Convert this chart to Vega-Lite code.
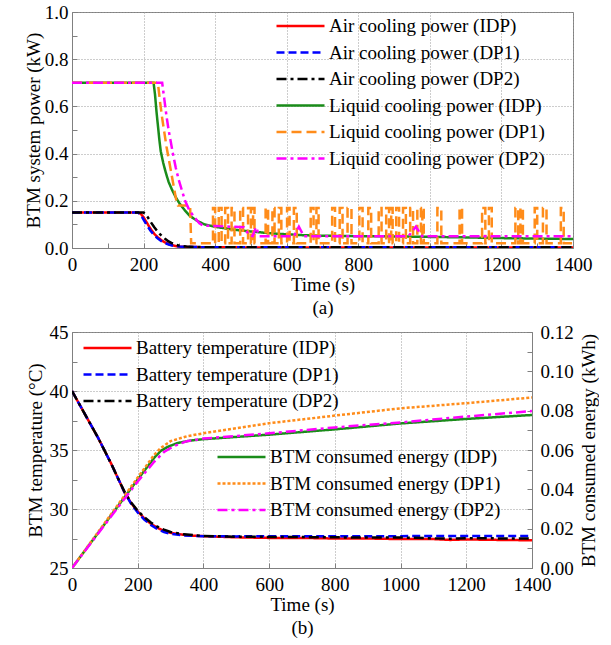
{
  "$schema": "https://vega.github.io/schema/vega-lite/v6.json",
  "padding": {"left": 23, "top": 2, "right": 0, "bottom": 0},
  "spacing": 4,
  "config": {
    "font": "Liberation Serif",
    "view": {"stroke": "#808080", "strokeWidth": 1},
    "axis": {
      "labelFont": "Liberation Serif", "titleFont": "Liberation Serif",
      "labelFontSize": 19, "titleFontSize": 19, "titleFontWeight": "normal",
      "labelColor": "#000", "titleColor": "#000",
      "domainColor": "#808080", "tickColor": "#808080", "tickSize": -5,
      "gridColor": "#9a9a9a", "gridDash": [1, 2], "gridWidth": 1
    },
    "axisX": {"labelPadding": 12},
    "axisY": {"labelPadding": 9},
    "legend": {
      "labelFont": "Liberation Serif", "labelFontSize": 19, "labelColor": "#000",
      "symbolType": "stroke", "symbolSize": 2304, "symbolStrokeWidth": 2.5,
      "clipHeight": 20, "rowPadding": 6.5, "labelOffset": 3, "padding": 0,
      "labelLimit": 0, "title": null
    }
  },
  "datasets": {
    "power": [
      {"t": 0, "v": 0.15, "s": "Air cooling power (IDP)"},
      {"t": 185, "v": 0.15, "s": "Air cooling power (IDP)"},
      {"t": 192, "v": 0.145, "s": "Air cooling power (IDP)"},
      {"t": 200, "v": 0.13, "s": "Air cooling power (IDP)"},
      {"t": 210, "v": 0.105, "s": "Air cooling power (IDP)"},
      {"t": 220, "v": 0.08, "s": "Air cooling power (IDP)"},
      {"t": 230, "v": 0.06, "s": "Air cooling power (IDP)"},
      {"t": 240, "v": 0.045, "s": "Air cooling power (IDP)"},
      {"t": 250, "v": 0.033, "s": "Air cooling power (IDP)"},
      {"t": 260, "v": 0.024, "s": "Air cooling power (IDP)"},
      {"t": 270, "v": 0.017, "s": "Air cooling power (IDP)"},
      {"t": 280, "v": 0.012, "s": "Air cooling power (IDP)"},
      {"t": 290, "v": 0.008, "s": "Air cooling power (IDP)"},
      {"t": 300, "v": 0.006, "s": "Air cooling power (IDP)"},
      {"t": 330, "v": 0.004, "s": "Air cooling power (IDP)"},
      {"t": 400, "v": 0.003, "s": "Air cooling power (IDP)"},
      {"t": 600, "v": 0.002, "s": "Air cooling power (IDP)"},
      {"t": 1400, "v": 0.002, "s": "Air cooling power (IDP)"},

      {"t": 0, "v": 0.15, "s": "Air cooling power (DP1)"},
      {"t": 185, "v": 0.15, "s": "Air cooling power (DP1)"},
      {"t": 192, "v": 0.14, "s": "Air cooling power (DP1)"},
      {"t": 200, "v": 0.12, "s": "Air cooling power (DP1)"},
      {"t": 210, "v": 0.095, "s": "Air cooling power (DP1)"},
      {"t": 220, "v": 0.072, "s": "Air cooling power (DP1)"},
      {"t": 230, "v": 0.054, "s": "Air cooling power (DP1)"},
      {"t": 240, "v": 0.04, "s": "Air cooling power (DP1)"},
      {"t": 250, "v": 0.029, "s": "Air cooling power (DP1)"},
      {"t": 260, "v": 0.021, "s": "Air cooling power (DP1)"},
      {"t": 270, "v": 0.015, "s": "Air cooling power (DP1)"},
      {"t": 280, "v": 0.011, "s": "Air cooling power (DP1)"},
      {"t": 300, "v": 0.006, "s": "Air cooling power (DP1)"},
      {"t": 330, "v": 0.004, "s": "Air cooling power (DP1)"},
      {"t": 400, "v": 0.003, "s": "Air cooling power (DP1)"},
      {"t": 1400, "v": 0.003, "s": "Air cooling power (DP1)"},

      {"t": 0, "v": 0.15, "s": "Air cooling power (DP2)"},
      {"t": 200, "v": 0.15, "s": "Air cooling power (DP2)"},
      {"t": 205, "v": 0.145, "s": "Air cooling power (DP2)"},
      {"t": 212, "v": 0.13, "s": "Air cooling power (DP2)"},
      {"t": 220, "v": 0.11, "s": "Air cooling power (DP2)"},
      {"t": 230, "v": 0.088, "s": "Air cooling power (DP2)"},
      {"t": 240, "v": 0.068, "s": "Air cooling power (DP2)"},
      {"t": 250, "v": 0.052, "s": "Air cooling power (DP2)"},
      {"t": 260, "v": 0.039, "s": "Air cooling power (DP2)"},
      {"t": 270, "v": 0.028, "s": "Air cooling power (DP2)"},
      {"t": 280, "v": 0.02, "s": "Air cooling power (DP2)"},
      {"t": 290, "v": 0.014, "s": "Air cooling power (DP2)"},
      {"t": 300, "v": 0.01, "s": "Air cooling power (DP2)"},
      {"t": 320, "v": 0.006, "s": "Air cooling power (DP2)"},
      {"t": 350, "v": 0.004, "s": "Air cooling power (DP2)"},
      {"t": 400, "v": 0.003, "s": "Air cooling power (DP2)"},
      {"t": 1400, "v": 0.003, "s": "Air cooling power (DP2)"},

      {"t": 0, "v": 0.7, "s": "Liquid cooling power (IDP)"},
      {"t": 228, "v": 0.7, "s": "Liquid cooling power (IDP)"},
      {"t": 232, "v": 0.65, "s": "Liquid cooling power (IDP)"},
      {"t": 236, "v": 0.58, "s": "Liquid cooling power (IDP)"},
      {"t": 240, "v": 0.52, "s": "Liquid cooling power (IDP)"},
      {"t": 244, "v": 0.46, "s": "Liquid cooling power (IDP)"},
      {"t": 248, "v": 0.41, "s": "Liquid cooling power (IDP)"},
      {"t": 255, "v": 0.36, "s": "Liquid cooling power (IDP)"},
      {"t": 262, "v": 0.32, "s": "Liquid cooling power (IDP)"},
      {"t": 270, "v": 0.28, "s": "Liquid cooling power (IDP)"},
      {"t": 280, "v": 0.245, "s": "Liquid cooling power (IDP)"},
      {"t": 290, "v": 0.215, "s": "Liquid cooling power (IDP)"},
      {"t": 300, "v": 0.19, "s": "Liquid cooling power (IDP)"},
      {"t": 315, "v": 0.16, "s": "Liquid cooling power (IDP)"},
      {"t": 330, "v": 0.135, "s": "Liquid cooling power (IDP)"},
      {"t": 350, "v": 0.115, "s": "Liquid cooling power (IDP)"},
      {"t": 370, "v": 0.1, "s": "Liquid cooling power (IDP)"},
      {"t": 400, "v": 0.09, "s": "Liquid cooling power (IDP)"},
      {"t": 450, "v": 0.078, "s": "Liquid cooling power (IDP)"},
      {"t": 500, "v": 0.07, "s": "Liquid cooling power (IDP)"},
      {"t": 550, "v": 0.063, "s": "Liquid cooling power (IDP)"},
      {"t": 600, "v": 0.058, "s": "Liquid cooling power (IDP)"},
      {"t": 650, "v": 0.054, "s": "Liquid cooling power (IDP)"},
      {"t": 700, "v": 0.052, "s": "Liquid cooling power (IDP)"},
      {"t": 800, "v": 0.05, "s": "Liquid cooling power (IDP)"},
      {"t": 900, "v": 0.049, "s": "Liquid cooling power (IDP)"},
      {"t": 1000, "v": 0.047, "s": "Liquid cooling power (IDP)"},
      {"t": 1100, "v": 0.045, "s": "Liquid cooling power (IDP)"},
      {"t": 1200, "v": 0.042, "s": "Liquid cooling power (IDP)"},
      {"t": 1300, "v": 0.04, "s": "Liquid cooling power (IDP)"},
      {"t": 1400, "v": 0.038, "s": "Liquid cooling power (IDP)"},

      {"t": 0, "v": 0.7, "s": "Liquid cooling power (DP1)"},
      {"t": 240, "v": 0.7, "s": "Liquid cooling power (DP1)"},
      {"t": 246, "v": 0.62, "s": "Liquid cooling power (DP1)"},
      {"t": 252, "v": 0.55, "s": "Liquid cooling power (DP1)"},
      {"t": 258, "v": 0.49, "s": "Liquid cooling power (DP1)"},
      {"t": 264, "v": 0.43, "s": "Liquid cooling power (DP1)"},
      {"t": 270, "v": 0.38, "s": "Liquid cooling power (DP1)"},
      {"t": 276, "v": 0.33, "s": "Liquid cooling power (DP1)"},
      {"t": 282, "v": 0.28, "s": "Liquid cooling power (DP1)"},
      {"t": 288, "v": 0.23, "s": "Liquid cooling power (DP1)"},
      {"t": 293, "v": 0.19, "s": "Liquid cooling power (DP1)"},
      {"t": 296, "v": 0.18, "s": "Liquid cooling power (DP1)"},
      {"t": 330, "v": 0.18, "s": "Liquid cooling power (DP1)"},
      {"t": 333, "v": 0.02, "s": "Liquid cooling power (DP1)"},
      {"t": 394, "v": 0.02, "s": "Liquid cooling power (DP1)"},
      {"t": 394, "v": 0.17, "s": "Liquid cooling power (DP1)"},
      {"t": 400, "v": 0.17, "s": "Liquid cooling power (DP1)"},
      {"t": 400, "v": 0.02, "s": "Liquid cooling power (DP1)"},
      {"t": 410, "v": 0.02, "s": "Liquid cooling power (DP1)"},
      {"t": 410, "v": 0.17, "s": "Liquid cooling power (DP1)"},
      {"t": 418, "v": 0.17, "s": "Liquid cooling power (DP1)"},
      {"t": 418, "v": 0.02, "s": "Liquid cooling power (DP1)"},
      {"t": 428, "v": 0.02, "s": "Liquid cooling power (DP1)"},
      {"t": 428, "v": 0.17, "s": "Liquid cooling power (DP1)"},
      {"t": 436, "v": 0.17, "s": "Liquid cooling power (DP1)"},
      {"t": 436, "v": 0.02, "s": "Liquid cooling power (DP1)"},
      {"t": 446, "v": 0.02, "s": "Liquid cooling power (DP1)"},
      {"t": 446, "v": 0.17, "s": "Liquid cooling power (DP1)"},
      {"t": 454, "v": 0.17, "s": "Liquid cooling power (DP1)"},
      {"t": 454, "v": 0.02, "s": "Liquid cooling power (DP1)"},
      {"t": 470, "v": 0.02, "s": "Liquid cooling power (DP1)"},
      {"t": 470, "v": 0.17, "s": "Liquid cooling power (DP1)"},
      {"t": 478, "v": 0.17, "s": "Liquid cooling power (DP1)"},
      {"t": 478, "v": 0.02, "s": "Liquid cooling power (DP1)"},
      {"t": 492, "v": 0.02, "s": "Liquid cooling power (DP1)"},
      {"t": 492, "v": 0.17, "s": "Liquid cooling power (DP1)"},
      {"t": 500, "v": 0.17, "s": "Liquid cooling power (DP1)"},
      {"t": 500, "v": 0.02, "s": "Liquid cooling power (DP1)"},
      {"t": 506, "v": 0.02, "s": "Liquid cooling power (DP1)"},
      {"t": 506, "v": 0.17, "s": "Liquid cooling power (DP1)"},
      {"t": 510, "v": 0.17, "s": "Liquid cooling power (DP1)"},
      {"t": 510, "v": 0.02, "s": "Liquid cooling power (DP1)"},
      {"t": 541, "v": 0.02, "s": "Liquid cooling power (DP1)"},
      {"t": 541, "v": 0.17, "s": "Liquid cooling power (DP1)"},
      {"t": 548, "v": 0.17, "s": "Liquid cooling power (DP1)"},
      {"t": 548, "v": 0.02, "s": "Liquid cooling power (DP1)"},
      {"t": 560, "v": 0.02, "s": "Liquid cooling power (DP1)"},
      {"t": 560, "v": 0.17, "s": "Liquid cooling power (DP1)"},
      {"t": 566, "v": 0.17, "s": "Liquid cooling power (DP1)"},
      {"t": 566, "v": 0.02, "s": "Liquid cooling power (DP1)"},
      {"t": 578, "v": 0.02, "s": "Liquid cooling power (DP1)"},
      {"t": 578, "v": 0.17, "s": "Liquid cooling power (DP1)"},
      {"t": 585, "v": 0.17, "s": "Liquid cooling power (DP1)"},
      {"t": 585, "v": 0.02, "s": "Liquid cooling power (DP1)"},
      {"t": 601, "v": 0.02, "s": "Liquid cooling power (DP1)"},
      {"t": 601, "v": 0.17, "s": "Liquid cooling power (DP1)"},
      {"t": 608, "v": 0.17, "s": "Liquid cooling power (DP1)"},
      {"t": 608, "v": 0.02, "s": "Liquid cooling power (DP1)"},
      {"t": 620, "v": 0.02, "s": "Liquid cooling power (DP1)"},
      {"t": 620, "v": 0.17, "s": "Liquid cooling power (DP1)"},
      {"t": 628, "v": 0.17, "s": "Liquid cooling power (DP1)"},
      {"t": 628, "v": 0.02, "s": "Liquid cooling power (DP1)"},
      {"t": 667, "v": 0.02, "s": "Liquid cooling power (DP1)"},
      {"t": 667, "v": 0.17, "s": "Liquid cooling power (DP1)"},
      {"t": 675, "v": 0.17, "s": "Liquid cooling power (DP1)"},
      {"t": 675, "v": 0.02, "s": "Liquid cooling power (DP1)"},
      {"t": 683, "v": 0.02, "s": "Liquid cooling power (DP1)"},
      {"t": 683, "v": 0.17, "s": "Liquid cooling power (DP1)"},
      {"t": 689, "v": 0.17, "s": "Liquid cooling power (DP1)"},
      {"t": 689, "v": 0.02, "s": "Liquid cooling power (DP1)"},
      {"t": 727, "v": 0.02, "s": "Liquid cooling power (DP1)"},
      {"t": 727, "v": 0.17, "s": "Liquid cooling power (DP1)"},
      {"t": 735, "v": 0.17, "s": "Liquid cooling power (DP1)"},
      {"t": 735, "v": 0.02, "s": "Liquid cooling power (DP1)"},
      {"t": 748, "v": 0.02, "s": "Liquid cooling power (DP1)"},
      {"t": 748, "v": 0.17, "s": "Liquid cooling power (DP1)"},
      {"t": 756, "v": 0.17, "s": "Liquid cooling power (DP1)"},
      {"t": 756, "v": 0.02, "s": "Liquid cooling power (DP1)"},
      {"t": 770, "v": 0.02, "s": "Liquid cooling power (DP1)"},
      {"t": 770, "v": 0.17, "s": "Liquid cooling power (DP1)"},
      {"t": 781, "v": 0.17, "s": "Liquid cooling power (DP1)"},
      {"t": 781, "v": 0.02, "s": "Liquid cooling power (DP1)"},
      {"t": 803, "v": 0.02, "s": "Liquid cooling power (DP1)"},
      {"t": 803, "v": 0.17, "s": "Liquid cooling power (DP1)"},
      {"t": 812, "v": 0.17, "s": "Liquid cooling power (DP1)"},
      {"t": 812, "v": 0.02, "s": "Liquid cooling power (DP1)"},
      {"t": 828, "v": 0.02, "s": "Liquid cooling power (DP1)"},
      {"t": 828, "v": 0.17, "s": "Liquid cooling power (DP1)"},
      {"t": 836, "v": 0.17, "s": "Liquid cooling power (DP1)"},
      {"t": 836, "v": 0.02, "s": "Liquid cooling power (DP1)"},
      {"t": 857, "v": 0.02, "s": "Liquid cooling power (DP1)"},
      {"t": 857, "v": 0.17, "s": "Liquid cooling power (DP1)"},
      {"t": 865, "v": 0.17, "s": "Liquid cooling power (DP1)"},
      {"t": 865, "v": 0.02, "s": "Liquid cooling power (DP1)"},
      {"t": 878, "v": 0.02, "s": "Liquid cooling power (DP1)"},
      {"t": 878, "v": 0.17, "s": "Liquid cooling power (DP1)"},
      {"t": 886, "v": 0.17, "s": "Liquid cooling power (DP1)"},
      {"t": 886, "v": 0.02, "s": "Liquid cooling power (DP1)"},
      {"t": 892, "v": 0.02, "s": "Liquid cooling power (DP1)"},
      {"t": 892, "v": 0.17, "s": "Liquid cooling power (DP1)"},
      {"t": 896, "v": 0.17, "s": "Liquid cooling power (DP1)"},
      {"t": 896, "v": 0.02, "s": "Liquid cooling power (DP1)"},
      {"t": 906, "v": 0.02, "s": "Liquid cooling power (DP1)"},
      {"t": 906, "v": 0.17, "s": "Liquid cooling power (DP1)"},
      {"t": 914, "v": 0.17, "s": "Liquid cooling power (DP1)"},
      {"t": 914, "v": 0.02, "s": "Liquid cooling power (DP1)"},
      {"t": 925, "v": 0.02, "s": "Liquid cooling power (DP1)"},
      {"t": 925, "v": 0.17, "s": "Liquid cooling power (DP1)"},
      {"t": 933, "v": 0.17, "s": "Liquid cooling power (DP1)"},
      {"t": 933, "v": 0.02, "s": "Liquid cooling power (DP1)"},
      {"t": 945, "v": 0.02, "s": "Liquid cooling power (DP1)"},
      {"t": 945, "v": 0.17, "s": "Liquid cooling power (DP1)"},
      {"t": 953, "v": 0.17, "s": "Liquid cooling power (DP1)"},
      {"t": 953, "v": 0.02, "s": "Liquid cooling power (DP1)"},
      {"t": 965, "v": 0.02, "s": "Liquid cooling power (DP1)"},
      {"t": 965, "v": 0.17, "s": "Liquid cooling power (DP1)"},
      {"t": 975, "v": 0.17, "s": "Liquid cooling power (DP1)"},
      {"t": 975, "v": 0.02, "s": "Liquid cooling power (DP1)"},
      {"t": 979, "v": 0.02, "s": "Liquid cooling power (DP1)"},
      {"t": 979, "v": 0.17, "s": "Liquid cooling power (DP1)"},
      {"t": 983, "v": 0.17, "s": "Liquid cooling power (DP1)"},
      {"t": 983, "v": 0.02, "s": "Liquid cooling power (DP1)"},
      {"t": 1021, "v": 0.02, "s": "Liquid cooling power (DP1)"},
      {"t": 1021, "v": 0.17, "s": "Liquid cooling power (DP1)"},
      {"t": 1032, "v": 0.17, "s": "Liquid cooling power (DP1)"},
      {"t": 1032, "v": 0.02, "s": "Liquid cooling power (DP1)"},
      {"t": 1083, "v": 0.02, "s": "Liquid cooling power (DP1)"},
      {"t": 1083, "v": 0.17, "s": "Liquid cooling power (DP1)"},
      {"t": 1090, "v": 0.17, "s": "Liquid cooling power (DP1)"},
      {"t": 1090, "v": 0.02, "s": "Liquid cooling power (DP1)"},
      {"t": 1146, "v": 0.02, "s": "Liquid cooling power (DP1)"},
      {"t": 1146, "v": 0.17, "s": "Liquid cooling power (DP1)"},
      {"t": 1155, "v": 0.17, "s": "Liquid cooling power (DP1)"},
      {"t": 1155, "v": 0.02, "s": "Liquid cooling power (DP1)"},
      {"t": 1165, "v": 0.02, "s": "Liquid cooling power (DP1)"},
      {"t": 1165, "v": 0.17, "s": "Liquid cooling power (DP1)"},
      {"t": 1173, "v": 0.17, "s": "Liquid cooling power (DP1)"},
      {"t": 1173, "v": 0.02, "s": "Liquid cooling power (DP1)"},
      {"t": 1239, "v": 0.02, "s": "Liquid cooling power (DP1)"},
      {"t": 1239, "v": 0.17, "s": "Liquid cooling power (DP1)"},
      {"t": 1247, "v": 0.17, "s": "Liquid cooling power (DP1)"},
      {"t": 1247, "v": 0.02, "s": "Liquid cooling power (DP1)"},
      {"t": 1253, "v": 0.02, "s": "Liquid cooling power (DP1)"},
      {"t": 1253, "v": 0.17, "s": "Liquid cooling power (DP1)"},
      {"t": 1260, "v": 0.17, "s": "Liquid cooling power (DP1)"},
      {"t": 1260, "v": 0.02, "s": "Liquid cooling power (DP1)"},
      {"t": 1293, "v": 0.02, "s": "Liquid cooling power (DP1)"},
      {"t": 1293, "v": 0.17, "s": "Liquid cooling power (DP1)"},
      {"t": 1300, "v": 0.17, "s": "Liquid cooling power (DP1)"},
      {"t": 1300, "v": 0.02, "s": "Liquid cooling power (DP1)"},
      {"t": 1316, "v": 0.02, "s": "Liquid cooling power (DP1)"},
      {"t": 1316, "v": 0.17, "s": "Liquid cooling power (DP1)"},
      {"t": 1326, "v": 0.17, "s": "Liquid cooling power (DP1)"},
      {"t": 1326, "v": 0.02, "s": "Liquid cooling power (DP1)"},
      {"t": 1366, "v": 0.02, "s": "Liquid cooling power (DP1)"},
      {"t": 1366, "v": 0.17, "s": "Liquid cooling power (DP1)"},
      {"t": 1374, "v": 0.17, "s": "Liquid cooling power (DP1)"},
      {"t": 1374, "v": 0.02, "s": "Liquid cooling power (DP1)"},
      {"t": 1400, "v": 0.02, "s": "Liquid cooling power (DP1)"},

      {"t": 0, "v": 0.7, "s": "Liquid cooling power (DP2)"},
      {"t": 252, "v": 0.7, "s": "Liquid cooling power (DP2)"},
      {"t": 258, "v": 0.63, "s": "Liquid cooling power (DP2)"},
      {"t": 264, "v": 0.56, "s": "Liquid cooling power (DP2)"},
      {"t": 270, "v": 0.5, "s": "Liquid cooling power (DP2)"},
      {"t": 276, "v": 0.45, "s": "Liquid cooling power (DP2)"},
      {"t": 282, "v": 0.4, "s": "Liquid cooling power (DP2)"},
      {"t": 290, "v": 0.34, "s": "Liquid cooling power (DP2)"},
      {"t": 298, "v": 0.29, "s": "Liquid cooling power (DP2)"},
      {"t": 306, "v": 0.25, "s": "Liquid cooling power (DP2)"},
      {"t": 316, "v": 0.2, "s": "Liquid cooling power (DP2)"},
      {"t": 328, "v": 0.16, "s": "Liquid cooling power (DP2)"},
      {"t": 342, "v": 0.13, "s": "Liquid cooling power (DP2)"},
      {"t": 356, "v": 0.105, "s": "Liquid cooling power (DP2)"},
      {"t": 366, "v": 0.095, "s": "Liquid cooling power (DP2)"},
      {"t": 400, "v": 0.093, "s": "Liquid cooling power (DP2)"},
      {"t": 450, "v": 0.09, "s": "Liquid cooling power (DP2)"},
      {"t": 480, "v": 0.088, "s": "Liquid cooling power (DP2)"},
      {"t": 495, "v": 0.055, "s": "Liquid cooling power (DP2)"},
      {"t": 505, "v": 0.05, "s": "Liquid cooling power (DP2)"},
      {"t": 514, "v": 0.088, "s": "Liquid cooling power (DP2)"},
      {"t": 524, "v": 0.05, "s": "Liquid cooling power (DP2)"},
      {"t": 620, "v": 0.05, "s": "Liquid cooling power (DP2)"},
      {"t": 634, "v": 0.09, "s": "Liquid cooling power (DP2)"},
      {"t": 648, "v": 0.05, "s": "Liquid cooling power (DP2)"},
      {"t": 940, "v": 0.05, "s": "Liquid cooling power (DP2)"},
      {"t": 961, "v": 0.09, "s": "Liquid cooling power (DP2)"},
      {"t": 978, "v": 0.05, "s": "Liquid cooling power (DP2)"},
      {"t": 1400, "v": 0.05, "s": "Liquid cooling power (DP2)"}
    ],
    "temp": [
      {"t": 0, "v": 40, "s": "Battery temperature (IDP)"},
      {"t": 20, "v": 39.0, "s": "Battery temperature (IDP)"},
      {"t": 40, "v": 38.0, "s": "Battery temperature (IDP)"},
      {"t": 60, "v": 37.0, "s": "Battery temperature (IDP)"},
      {"t": 80, "v": 36.0, "s": "Battery temperature (IDP)"},
      {"t": 100, "v": 34.9, "s": "Battery temperature (IDP)"},
      {"t": 120, "v": 33.8, "s": "Battery temperature (IDP)"},
      {"t": 140, "v": 32.6, "s": "Battery temperature (IDP)"},
      {"t": 160, "v": 31.4, "s": "Battery temperature (IDP)"},
      {"t": 180, "v": 30.5, "s": "Battery temperature (IDP)"},
      {"t": 200, "v": 29.8, "s": "Battery temperature (IDP)"},
      {"t": 220, "v": 29.2, "s": "Battery temperature (IDP)"},
      {"t": 240, "v": 28.75, "s": "Battery temperature (IDP)"},
      {"t": 260, "v": 28.4, "s": "Battery temperature (IDP)"},
      {"t": 280, "v": 28.15, "s": "Battery temperature (IDP)"},
      {"t": 300, "v": 27.98, "s": "Battery temperature (IDP)"},
      {"t": 330, "v": 27.85, "s": "Battery temperature (IDP)"},
      {"t": 360, "v": 27.75, "s": "Battery temperature (IDP)"},
      {"t": 400, "v": 27.7, "s": "Battery temperature (IDP)"},
      {"t": 500, "v": 27.6, "s": "Battery temperature (IDP)"},
      {"t": 600, "v": 27.55, "s": "Battery temperature (IDP)"},
      {"t": 700, "v": 27.55, "s": "Battery temperature (IDP)"},
      {"t": 800, "v": 27.5, "s": "Battery temperature (IDP)"},
      {"t": 900, "v": 27.5, "s": "Battery temperature (IDP)"},
      {"t": 1000, "v": 27.45, "s": "Battery temperature (IDP)"},
      {"t": 1100, "v": 27.45, "s": "Battery temperature (IDP)"},
      {"t": 1150, "v": 27.38, "s": "Battery temperature (IDP)"},
      {"t": 1200, "v": 27.42, "s": "Battery temperature (IDP)"},
      {"t": 1300, "v": 27.38, "s": "Battery temperature (IDP)"},
      {"t": 1400, "v": 27.35, "s": "Battery temperature (IDP)"},

      {"t": 0, "v": 40, "s": "Battery temperature (DP1)"},
      {"t": 20, "v": 39.0, "s": "Battery temperature (DP1)"},
      {"t": 40, "v": 38.0, "s": "Battery temperature (DP1)"},
      {"t": 60, "v": 37.0, "s": "Battery temperature (DP1)"},
      {"t": 80, "v": 36.0, "s": "Battery temperature (DP1)"},
      {"t": 100, "v": 34.9, "s": "Battery temperature (DP1)"},
      {"t": 120, "v": 33.8, "s": "Battery temperature (DP1)"},
      {"t": 140, "v": 32.6, "s": "Battery temperature (DP1)"},
      {"t": 160, "v": 31.4, "s": "Battery temperature (DP1)"},
      {"t": 180, "v": 30.45, "s": "Battery temperature (DP1)"},
      {"t": 200, "v": 29.7, "s": "Battery temperature (DP1)"},
      {"t": 220, "v": 29.1, "s": "Battery temperature (DP1)"},
      {"t": 240, "v": 28.65, "s": "Battery temperature (DP1)"},
      {"t": 260, "v": 28.3, "s": "Battery temperature (DP1)"},
      {"t": 280, "v": 28.05, "s": "Battery temperature (DP1)"},
      {"t": 300, "v": 27.9, "s": "Battery temperature (DP1)"},
      {"t": 340, "v": 27.75, "s": "Battery temperature (DP1)"},
      {"t": 400, "v": 27.7, "s": "Battery temperature (DP1)"},
      {"t": 500, "v": 27.68, "s": "Battery temperature (DP1)"},
      {"t": 700, "v": 27.7, "s": "Battery temperature (DP1)"},
      {"t": 1000, "v": 27.7, "s": "Battery temperature (DP1)"},
      {"t": 1200, "v": 27.72, "s": "Battery temperature (DP1)"},
      {"t": 1400, "v": 27.72, "s": "Battery temperature (DP1)"},

      {"t": 0, "v": 40, "s": "Battery temperature (DP2)"},
      {"t": 20, "v": 39.0, "s": "Battery temperature (DP2)"},
      {"t": 40, "v": 38.0, "s": "Battery temperature (DP2)"},
      {"t": 60, "v": 37.0, "s": "Battery temperature (DP2)"},
      {"t": 80, "v": 36.0, "s": "Battery temperature (DP2)"},
      {"t": 100, "v": 34.9, "s": "Battery temperature (DP2)"},
      {"t": 120, "v": 33.8, "s": "Battery temperature (DP2)"},
      {"t": 140, "v": 32.6, "s": "Battery temperature (DP2)"},
      {"t": 160, "v": 31.45, "s": "Battery temperature (DP2)"},
      {"t": 180, "v": 30.55, "s": "Battery temperature (DP2)"},
      {"t": 200, "v": 29.85, "s": "Battery temperature (DP2)"},
      {"t": 220, "v": 29.3, "s": "Battery temperature (DP2)"},
      {"t": 240, "v": 28.85, "s": "Battery temperature (DP2)"},
      {"t": 260, "v": 28.5, "s": "Battery temperature (DP2)"},
      {"t": 280, "v": 28.25, "s": "Battery temperature (DP2)"},
      {"t": 300, "v": 28.05, "s": "Battery temperature (DP2)"},
      {"t": 340, "v": 27.85, "s": "Battery temperature (DP2)"},
      {"t": 400, "v": 27.72, "s": "Battery temperature (DP2)"},
      {"t": 500, "v": 27.65, "s": "Battery temperature (DP2)"},
      {"t": 700, "v": 27.62, "s": "Battery temperature (DP2)"},
      {"t": 900, "v": 27.58, "s": "Battery temperature (DP2)"},
      {"t": 1000, "v": 27.58, "s": "Battery temperature (DP2)"},
      {"t": 1150, "v": 27.48, "s": "Battery temperature (DP2)"},
      {"t": 1200, "v": 27.52, "s": "Battery temperature (DP2)"},
      {"t": 1400, "v": 27.5, "s": "Battery temperature (DP2)"}
    ],
    "energy": [
      {"t": 0, "e": 0, "s": "BTM consumed energy (IDP)"},
      {"t": 100, "e": 0.0225, "s": "BTM consumed energy (IDP)"},
      {"t": 200, "e": 0.045, "s": "BTM consumed energy (IDP)"},
      {"t": 250, "e": 0.056, "s": "BTM consumed energy (IDP)"},
      {"t": 270, "e": 0.0595, "s": "BTM consumed energy (IDP)"},
      {"t": 290, "e": 0.0615, "s": "BTM consumed energy (IDP)"},
      {"t": 320, "e": 0.0635, "s": "BTM consumed energy (IDP)"},
      {"t": 360, "e": 0.0648, "s": "BTM consumed energy (IDP)"},
      {"t": 400, "e": 0.0655, "s": "BTM consumed energy (IDP)"},
      {"t": 600, "e": 0.0678, "s": "BTM consumed energy (IDP)"},
      {"t": 800, "e": 0.0705, "s": "BTM consumed energy (IDP)"},
      {"t": 1000, "e": 0.0735, "s": "BTM consumed energy (IDP)"},
      {"t": 1200, "e": 0.0758, "s": "BTM consumed energy (IDP)"},
      {"t": 1400, "e": 0.0778, "s": "BTM consumed energy (IDP)"},

      {"t": 0, "e": 0, "s": "BTM consumed energy (DP1)"},
      {"t": 100, "e": 0.023, "s": "BTM consumed energy (DP1)"},
      {"t": 200, "e": 0.046, "s": "BTM consumed energy (DP1)"},
      {"t": 250, "e": 0.0575, "s": "BTM consumed energy (DP1)"},
      {"t": 270, "e": 0.061, "s": "BTM consumed energy (DP1)"},
      {"t": 300, "e": 0.0645, "s": "BTM consumed energy (DP1)"},
      {"t": 350, "e": 0.067, "s": "BTM consumed energy (DP1)"},
      {"t": 400, "e": 0.0685, "s": "BTM consumed energy (DP1)"},
      {"t": 600, "e": 0.0736, "s": "BTM consumed energy (DP1)"},
      {"t": 800, "e": 0.0775, "s": "BTM consumed energy (DP1)"},
      {"t": 1000, "e": 0.0812, "s": "BTM consumed energy (DP1)"},
      {"t": 1200, "e": 0.0838, "s": "BTM consumed energy (DP1)"},
      {"t": 1400, "e": 0.0867, "s": "BTM consumed energy (DP1)"},

      {"t": 0, "e": 0, "s": "BTM consumed energy (DP2)"},
      {"t": 100, "e": 0.022, "s": "BTM consumed energy (DP2)"},
      {"t": 200, "e": 0.044, "s": "BTM consumed energy (DP2)"},
      {"t": 250, "e": 0.054, "s": "BTM consumed energy (DP2)"},
      {"t": 280, "e": 0.059, "s": "BTM consumed energy (DP2)"},
      {"t": 310, "e": 0.062, "s": "BTM consumed energy (DP2)"},
      {"t": 350, "e": 0.0645, "s": "BTM consumed energy (DP2)"},
      {"t": 400, "e": 0.0658, "s": "BTM consumed energy (DP2)"},
      {"t": 600, "e": 0.0685, "s": "BTM consumed energy (DP2)"},
      {"t": 800, "e": 0.0715, "s": "BTM consumed energy (DP2)"},
      {"t": 1000, "e": 0.074, "s": "BTM consumed energy (DP2)"},
      {"t": 1200, "e": 0.077, "s": "BTM consumed energy (DP2)"},
      {"t": 1400, "e": 0.0798, "s": "BTM consumed energy (DP2)"}
    ]
  },
  "vconcat": [
    {
      "width": 501,
      "height": 236,
      "data": {"name": "power"},
      "mark": {"type": "line", "strokeWidth": 2.5, "clip": true},
      "encoding": {
        "x": {
          "field": "t", "type": "quantitative",
          "scale": {"domain": [0, 1400], "nice": false},
          "axis": {
            "values": [0, 100, 200, 300, 400, 500, 600, 700, 800, 900, 1000, 1100, 1200, 1300, 1400],
            "labelExpr": "datum.value % 200 == 0 ? datum.label : ''",
            "format": "d",
            "gridOpacity": {"condition": {"test": "datum.value % 200 != 0", "value": 0}, "value": 1},
            "title": ["Time (s)", "(a)"], "titleLineHeight": 23, "titlePadding": 1,
            "labelFlush": false
          }
        },
        "y": {
          "field": "v", "type": "quantitative",
          "scale": {"domain": [0, 1], "nice": false},
          "axis": {
            "values": [0, 0.1, 0.2, 0.3, 0.4, 0.5, 0.6, 0.7, 0.8, 0.9, 1.0],
            "labelExpr": "round(datum.value * 10) % 2 == 0 ? format(datum.value, '.1f') : ''",
            "gridOpacity": {"condition": {"test": "round(datum.value * 10) % 2 != 0", "value": 0}, "value": 1},
            "title": "BTM system power (kW)", "titlePadding": 1
          }
        },
        "color": {
          "field": "s", "type": "nominal",
          "scale": {
            "domain": ["Air cooling power (IDP)", "Air cooling power (DP1)", "Air cooling power (DP2)", "Liquid cooling power (IDP)", "Liquid cooling power (DP1)", "Liquid cooling power (DP2)"],
            "range": ["#ff0000", "#0000ff", "#000000", "#1a8c1a", "#ff8c1a", "#ff00ff"]
          },
          "legend": {"orient": "none", "legendX": 203, "legendY": 4}
        },
        "strokeDash": {
          "field": "s", "type": "nominal",
          "scale": {
            "domain": ["Air cooling power (IDP)", "Air cooling power (DP1)", "Air cooling power (DP2)", "Liquid cooling power (IDP)", "Liquid cooling power (DP1)", "Liquid cooling power (DP2)"],
            "range": [[1, 0], [8, 4], [10, 4, 3, 4], [1, 0], [10, 5], [10, 4, 3, 4]]
          },
          "legend": {"orient": "none", "legendX": 203, "legendY": 4}
        }
      }
    },
    {
      "width": 460,
      "height": 236,
      "layer": [
        {
          "data": {"name": "temp"},
          "mark": {"type": "line", "strokeWidth": 2.5, "clip": true},
          "encoding": {
            "x": {
              "field": "t", "type": "quantitative",
              "scale": {"domain": [0, 1400], "nice": false},
              "axis": {
                "values": [0, 100, 200, 300, 400, 500, 600, 700, 800, 900, 1000, 1100, 1200, 1300, 1400],
                "labelExpr": "datum.value % 200 == 0 ? datum.label : ''",
                "format": "d",
                "gridOpacity": {"condition": {"test": "datum.value % 200 != 0", "value": 0}, "value": 1},
                "title": ["Time (s)", "(b)"], "titleLineHeight": 23, "titlePadding": 1,
                "labelFlush": false
              }
            },
            "y": {
              "field": "v", "type": "quantitative",
              "scale": {"domain": [25, 45], "nice": false},
              "axis": {
                "values": [25, 27.5, 30, 32.5, 35, 37.5, 40, 42.5, 45],
                "labelExpr": "datum.value % 5 == 0 ? format(datum.value, 'd') : ''",
                "gridOpacity": {"condition": {"test": "datum.value % 5 != 0", "value": 0}, "value": 1},
                "title": "BTM temperature (°C)", "titlePadding": 4
              }
            },
            "color": {
              "field": "s", "type": "nominal",
              "scale": {
                "domain": ["Battery temperature (IDP)", "Battery temperature (DP1)", "Battery temperature (DP2)"],
                "range": ["#ff0000", "#0000ff", "#000000"]
              },
              "legend": {"orient": "none", "legendX": 10, "legendY": 6}
            },
            "strokeDash": {
              "field": "s", "type": "nominal",
              "scale": {
                "domain": ["Battery temperature (IDP)", "Battery temperature (DP1)", "Battery temperature (DP2)"],
                "range": [[1, 0], [8, 4], [10, 4, 3, 4]]
              },
              "legend": {"orient": "none", "legendX": 10, "legendY": 6}
            }
          }
        },
        {
          "data": {"name": "energy"},
          "mark": {"type": "line", "strokeWidth": 2.5, "clip": true},
          "encoding": {
            "x": {"field": "t", "type": "quantitative"},
            "y": {
              "field": "e", "type": "quantitative",
              "scale": {"domain": [0, 0.12], "nice": false},
              "axis": {
                "orient": "right",
                "values": [0, 0.01, 0.02, 0.03, 0.04, 0.05, 0.06, 0.07, 0.08, 0.09, 0.1, 0.11, 0.12],
                "labelExpr": "round(datum.value * 100) % 2 == 0 ? format(datum.value, '.2f') : ''",
                "grid": false,
                "title": "BTM consumed energy (kWh)", "titleAngle": 270, "titleBaseline": "top", "titlePadding": 6,
                "labelPadding": 13
              }
            },
            "color": {
              "field": "s", "type": "nominal",
              "scale": {
                "domain": ["BTM consumed energy (IDP)", "BTM consumed energy (DP1)", "BTM consumed energy (DP2)"],
                "range": ["#1a8c1a", "#ff8c1a", "#ff00ff"]
              },
              "legend": {"orient": "none", "legendX": 144, "legendY": 115}
            },
            "strokeDash": {
              "field": "s", "type": "nominal",
              "scale": {
                "domain": ["BTM consumed energy (IDP)", "BTM consumed energy (DP1)", "BTM consumed energy (DP2)"],
                "range": [[1, 0], [3, 2], [10, 4, 3, 4]]
              },
              "legend": {"orient": "none", "legendX": 144, "legendY": 115}
            }
          }
        }
      ],
      "resolve": {"scale": {"y": "independent", "color": "independent", "strokeDash": "independent"}}
    }
  ]
}
